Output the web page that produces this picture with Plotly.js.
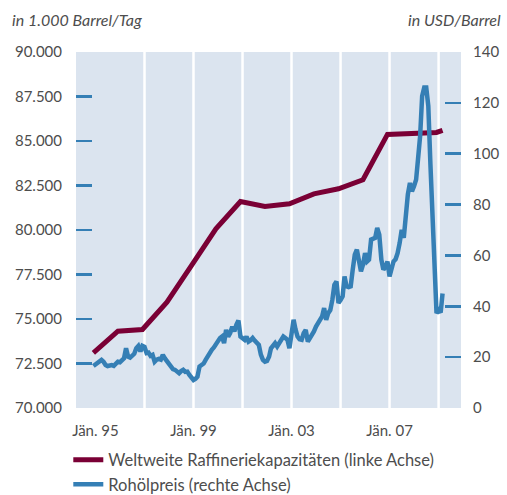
<!DOCTYPE html>
<html>
<head>
<meta charset="utf-8">
<script src="https://cdn.plot.ly/plotly-3.0.1.min.js"></script>
<style>
  html, body { margin: 0; padding: 0; background: #fff; }
  #plot { width: 507px; height: 495px; }
</style>
</head>
<body>
<div id="plot"></div>
<script>
// Weltweite Raffineriekapazitäten (1.000 Barrel/Tag), Jahreswerte
var capDates = ['1994-12-01', '1995-12-01', '1996-12-01', '1997-12-01', '1998-12-01',
  '1999-12-01', '2000-12-01', '2001-12-01', '2002-12-01', '2003-12-01', '2004-12-01',
  '2005-12-01', '2006-12-01', '2007-12-01', '2008-12-01', '2009-03-01'];
var capValues = [73100, 74315, 74410, 75950, 78000, 80070, 81600, 81320, 81470,
  82030, 82315, 82820, 85370, 85400, 85480, 85600];

// Rohölpreis (USD/Barrel), Monatswerte ab Dez. 1994
var priceStart = [1994, 12];
var priceValues = [
  16.5,
  17.2, 17.6, 18.0, 18.9, 18.2, 16.9, 16.5, 16.8, 16.9, 16.6, 17.5, 18.2,   // 1995
  18.0, 18.6, 19.5, 23.5, 20.2, 19.8, 20.5, 21.3, 23.5, 24.4, 22.2, 24.4,   // 1996
  24.0, 21.6, 21.8, 20.5, 20.9, 18.2, 19.0, 19.3, 19.0, 20.9, 19.5, 18.4,   // 1997
  17.6, 16.5, 15.3, 15.0, 14.5, 13.7, 14.5, 15.0, 14.2, 14.3, 13.0, 11.7,   // 1998
  11.0, 11.5, 12.3, 16.3, 16.9, 17.5, 18.9, 20.5, 22.2, 22.9, 23.8, 25.5,   // 1999
  26.3, 27.5, 28.1, 25.5, 30.7, 28.1, 29.5, 32.0, 30.1, 32.7, 34.4, 28.1,   // 2000
  27.5, 26.8, 28.1, 26.1, 26.6, 27.5, 26.5, 25.5, 24.8, 21.0, 18.9, 18.2,   // 2001
  18.5, 20.2, 23.5, 24.5, 25.5, 24.2, 25.5, 26.8, 28.1, 27.5, 26.8, 23.5,   // 2002
  29.4, 34.7, 31.0, 28.1, 27.0, 26.8, 29.4, 30.7, 26.1, 27.5, 28.1, 30.1,   // 2003
  32.0, 33.4, 34.5, 36.0, 39.3, 34.7, 37.3, 38.5, 42.6, 48.5, 49.8, 41.3,   // 2004
  42.5, 43.9, 51.7, 47.8, 47.5, 47.8, 54.4, 60.3, 62.3, 58.3, 53.7, 56.3,   // 2005
  60.9, 57.6, 58.3, 66.2, 66.5, 66.9, 70.8, 68.2, 58.3, 54.4, 55.5, 57.6,   // 2006
  51.7, 55.7, 57.6, 58.5, 60.9, 64.9, 70.1, 66.9, 76.7, 84.0, 88.5, 85.2,   // 2007
  87.2, 89.8, 98.0, 107.0, 122.7, 126.0, 126.0, 118.7, 96.0, 76.0, 55.0, 37.3, // 2008
  38.5, 37.5, 45.0                                                          // 2009
];

var xLabelDates = ['1995-01-01', '1999-01-01', '2003-01-01', '2007-01-01'];
var xLabels = ['Jän. 95', 'Jän. 99', 'Jän. 03', 'Jän. 07'];
var gridDates = ['1997-01-01', '1999-01-01', '2001-01-01', '2003-01-01',
  '2005-01-01', '2007-01-01', '2009-01-01'];

var priceDates = [];
for (var i = 0; i < priceValues.length; i++) {
  var mm = priceStart[1] - 1 + i;
  var yy = priceStart[0] + Math.floor(mm / 12);
  var mo = (mm % 12) + 1;
  priceDates.push(yy + '-' + (mo < 10 ? '0' + mo : mo) + '-01');
}

var maroon = '#7a0035';
var blue = '#357fb5';
var textColor = '#4d4d4d';
var font = 'Lato, "Open Sans", sans-serif';

var trace1 = {
  x: capDates,
  y: capValues,
  mode: 'lines',
  name: 'Weltweite Raffineriekapazitäten (linke Achse)',
  legendgroup: 'a',
  line: { color: maroon, width: 5 },
};

var trace2 = {
  x: priceDates,
  y: priceValues,
  yaxis: 'y2',
  mode: 'lines',
  name: 'Rohölpreis (rechte Achse)',
  legendgroup: 'b',
  line: { color: blue, width: 4.5 },
};

var shapes = [];
for (var g = 0; g < gridDates.length; g++) {
  shapes.push({
    type: 'line', xref: 'x', yref: 'paper',
    x0: gridDates[g], x1: gridDates[g], y0: 0, y1: 1,
    line: { color: '#ffffff', width: 2.5 },
    layer: 'below',
  });
}

var layout = {
  width: 507,
  height: 495,
  margin: { l: 76, r: 46, t: 51.5, b: 87.3, autoexpand: false },
  paper_bgcolor: '#ffffff',
  plot_bgcolor: '#dbe4ef',
  separators: ',.',
  font: { family: font, size: 15, color: textColor },
  showlegend: true,
  legend: {
    orientation: 'v',
    x: -0.02, xanchor: 'left',
    y: -0.097, yanchor: 'top',
    tracegroupgap: 0,
    font: { family: font, size: 16.5, color: textColor },
    bgcolor: 'rgba(0,0,0,0)',
  },
  xaxis: {
    type: 'date',
    range: ['1994-03-17', '2009-12-01'],
    tickvals: xLabelDates,
    ticktext: xLabels,
    showgrid: false,
    zeroline: false,
    showline: false,
    ticks: '',
    ticklabelstandoff: 12,
    tickfont: { family: font, size: 15, color: textColor },
  },
  yaxis: {
    range: [70000, 90000],
    dtick: 2500,
    tickformat: ',d',
    showgrid: false,
    zeroline: false,
    showline: false,
    ticks: 'inside',
    ticklen: 16,
    tickwidth: 2.5,
    tickcolor: blue,
    ticklabelstandoff: 13,
    tickfont: { family: font, size: 15, color: textColor },
  },
  yaxis2: {
    range: [0, 140],
    dtick: 20,
    overlaying: 'y',
    side: 'right',
    showgrid: false,
    zeroline: false,
    showline: false,
    ticks: 'inside',
    ticklen: 16,
    tickwidth: 2.5,
    tickcolor: blue,
    ticklabelstandoff: 11,
    tickfont: { family: font, size: 15, color: textColor },
  },
  shapes: shapes,
  annotations: [
    {
      text: '<i>in 1.000 Barrel/Tag</i>', xref: 'paper', yref: 'paper',
      x: -0.172, y: 1.09, xanchor: 'left', yanchor: 'middle', showarrow: false,
      font: { family: font, size: 16, color: textColor },
    },
    {
      text: '<i>in USD/Barrel</i>', xref: 'paper', yref: 'paper',
      x: 1.11, y: 1.09, xanchor: 'right', yanchor: 'middle', showarrow: false,
      font: { family: font, size: 16, color: textColor },
    },
  ],
};

Plotly.newPlot('plot', [trace1, trace2], layout, { displayModeBar: false, staticPlot: true });
</script>
</body>
</html>
